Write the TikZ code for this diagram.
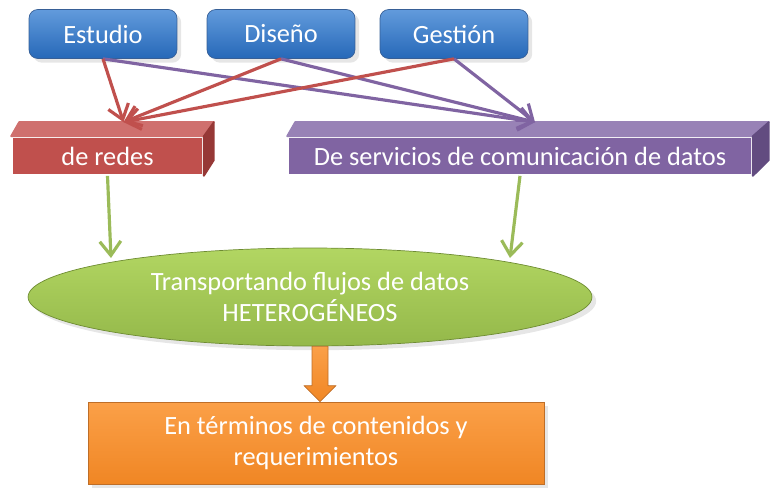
\documentclass[tikz,border=0pt]{standalone}
\usepackage{fontspec}
\setmainfont{Carlito}
\usetikzlibrary{shapes.geometric,arrows.meta,calc,shadows}

\definecolor{blueTop}{RGB}{98,155,220}
\definecolor{blueBot}{RGB}{38,104,184}
\definecolor{blueEdge}{RGB}{55,95,150}
\definecolor{redFront}{RGB}{192,80,77}
\definecolor{redTop}{RGB}{207,112,110}
\definecolor{redSide}{RGB}{150,56,54}
\definecolor{purFront}{RGB}{128,100,162}
\definecolor{purTop}{RGB}{152,130,182}
\definecolor{purSide}{RGB}{98,76,128}
\definecolor{greenTop}{RGB}{178,214,98}
\definecolor{greenBot}{RGB}{148,184,74}
\definecolor{greenEdge}{RGB}{110,140,50}
\definecolor{greenArr}{RGB}{155,187,89}
\definecolor{orangeTop}{RGB}{251,160,72}
\definecolor{orangeBot}{RGB}{240,134,36}
\definecolor{orangeEdge}{RGB}{190,110,40}

\begin{document}
\begin{tikzpicture}[
        x=0.02cm, y=-0.02cm,
        txt/.style={text=white, align=center, font=\fontsize{15}{17.5}\selectfont},
        topbox/.style={txt, draw=blueEdge, rounded corners=5pt, top color=blueTop, bottom color=blueBot,
            minimum width=2.96cm, minimum height=0.98cm, drop shadow={opacity=0.2}},
        front/.style={txt, inner sep=0, minimum height=0.76cm, draw=white, line width=1pt},
        face/.style={draw=white, line width=1pt, line join=round},
        redarr/.style={-{Straight Barb[length=8pt,width=12pt]}, line width=1.8pt, redFront},
        purarr/.style={-{Straight Barb[length=8pt,width=12pt]}, line width=1.8pt, purFront},
        greenarr/.style={-{Straight Barb[length=8pt,width=12pt]}, line width=1.8pt, greenArr}
    ]
        \useasboundingbox (0,0) rectangle (778,497);

        % Top row
        \node[topbox] (estudio) at (103,34) {Estudio};
        \node[topbox] (diseno) at (281,34) {Diseño};
        \node[topbox] (gestion) at (454,34) {Gestión};

        % 3D boxes
        \node[front, fill=redFront, minimum width=3.82cm] (redes) at (107.5,156) {de redes};
        \fill[face, redTop] (redes.north west) -- ++(8,-14) -- ($(redes.north east)+(10,-14)$) -- (redes.north east) -- cycle;
        \fill[face, redSide] (redes.north east) -- ++(10,-14) -- ++(0,38) -- (redes.south east) -- cycle;

        \node[front, fill=purFront, minimum width=9.28cm] (servicios) at (520,156) {De servicios de comunicación de datos};
        \fill[face, purTop] (servicios.north west) -- ++(8,-14) -- ($(servicios.north east)+(16,-14)$) -- (servicios.north east) -- cycle;
        \fill[face, purSide] (servicios.north east) -- ++(16,-14) -- ++(0,38) -- (servicios.south east) -- cycle;

        \coordinate (redin) at ($(redes.north)+(16,-14)$);
        \coordinate (servin) at ($(servicios.north)+(15,-14)$);

        % Crossing arrows
        \draw[purarr] (estudio.south) -- (servin);
        \draw[purarr] (diseno.south) -- (servin);
        \draw[purarr] (gestion.south) -- (servin);
        \draw[redarr] (estudio.south) -- (redin);
        \draw[redarr] (diseno.south) -- (redin);
        \draw[redarr] (gestion.south) -- (redin);

        % Ellipse
        \node[ellipse, txt, inner sep=0, minimum width=11.28cm, minimum height=1.96cm, draw=greenEdge,
            top color=greenTop, bottom color=greenBot, drop shadow={opacity=0.2}] (trans) at (310,297)
            {Transportando flujos de datos\\HETEROGÉNEOS};

        \coordinate (gtipA) at (111,258);
        \coordinate (gtipB) at (510,258);
        \draw[greenarr] (redes.south) -- (gtipA);
        \draw[greenarr] (servicios.south) -- (gtipB);

        % Bottom box
        \node[txt, minimum width=9.12cm, minimum height=1.64cm, draw=orangeEdge, top color=orangeTop,
            bottom color=orangeBot, drop shadow={opacity=0.2}] (terminos) at (316,443)
            {En términos de contenidos y\\requerimientos};

        % Block arrow
        \coordinate (otip) at ($(terminos.north)+(4,0)$);
        \coordinate (otail) at (otip |- trans.south);
        \draw[orangeEdge, top color=orangeTop, bottom color=orangeBot, line join=round]
            ($(otail)+(-8,0)$) -- ($(otail)+(8,0)$) -- ($(otip)+(8,-16)$) -- ($(otip)+(16,-16)$)
            -- (otip) -- ($(otip)+(-16,-16)$) -- ($(otip)+(-8,-16)$) -- cycle;

    \end{tikzpicture}
\end{document}
